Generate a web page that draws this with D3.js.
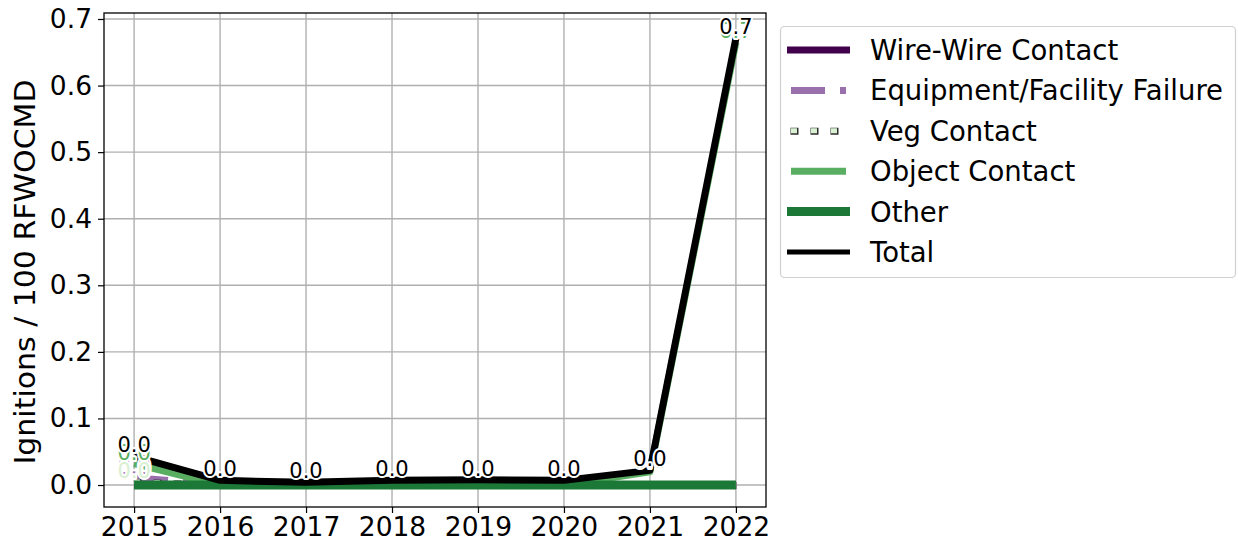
<!DOCTYPE html>
<html>
<head>
<meta charset="utf-8">
<script src="https://cdn.jsdelivr.net/npm/d3@7"></script>
<style>
  html, body { margin: 0; padding: 0; background: #fff; }
  svg { display: block; font-family: "DejaVu Sans", sans-serif; }
</style>
</head>
<body>
<svg id="chart" width="1238" height="548"></svg>
<script>
// Ignition rates per 100 red-flag-warning overhead circuit mile days, by cause
const years = [2015, 2016, 2017, 2018, 2019, 2020, 2021, 2022];
const wireWire = [0, 0, 0, 0, 0, 0, 0, 0];
const equipment = [0.011, 0, 0, 0, 0, 0, 0, 0];
const vegContact = [0.005, 0, 0, 0, 0, 0, 0, 0];
const objectContact = [0.032, 0, 0, 0, 0, 0, 0.02, 0.665];
const other = [0, 0, 0, 0, 0, 0, 0, 0];
const total = [0.043, 0.007, 0.004, 0.007, 0.008, 0.007, 0.022, 0.671];
const yTicks = [0.0, 0.1, 0.2, 0.3, 0.4, 0.5, 0.6, 0.7];
const seriesNames = ["Wire-Wire Contact", "Equipment/Facility Failure", "Veg Contact",
                     "Object Contact", "Other", "Total"];

const series = [
  { name: seriesNames[0], values: wireWire, color: "#40004b", width: 7, dash: null },
  { name: seriesNames[1], values: equipment, color: "#9970ab", width: 7, dash: "34,15,7,15" },
  { name: seriesNames[2], values: vegContact, color: "#d9f0d3", width: 5, dash: "6,14",
    edge: "#2e2e2e", edgeWidth: 7, edgeDash: "8,12" },
  { name: seriesNames[3], values: objectContact, color: "#5aae61", width: 7, dash: null },
  { name: seriesNames[4], values: other, color: "#1b7837", width: 9, dash: null },
  { name: seriesNames[5], values: total, color: "#000000", width: 7, dash: null }
];

const svg = d3.select("#chart");
const plot = { left: 104, right: 766, top: 13, bottom: 507 };

const x = d3.scaleLinear().domain([2015 - 0.35, 2022 + 0.35]).range([plot.left, plot.right]);
const y = d3.scaleLinear().domain([-0.033, 0.709]).range([plot.bottom, plot.top]);

// grid
const grid = svg.append("g");
grid.selectAll("line.vx").data(years).join("line")
  .attr("x1", d => x(d)).attr("x2", d => x(d))
  .attr("y1", plot.top).attr("y2", plot.bottom)
  .attr("stroke", "#b0b0b0").attr("stroke-width", 1.4);
grid.selectAll("line.hy").data(yTicks).join("line")
  .attr("x1", plot.left).attr("x2", plot.right)
  .attr("y1", d => y(d)).attr("y2", d => y(d))
  .attr("stroke", "#b0b0b0").attr("stroke-width", 1.4);

// axes
const xAxis = d3.axisBottom(x).tickValues(years).tickFormat(d3.format("d")).tickSize(6).tickPadding(4);
const yAxis = d3.axisLeft(y).tickValues(yTicks).tickFormat(d3.format(".1f")).tickSize(6).tickPadding(6);

const gx = svg.append("g").attr("transform", `translate(0,${plot.bottom})`).call(xAxis);
const gy = svg.append("g").attr("transform", `translate(${plot.left},0)`).call(yAxis);
[gx, gy].forEach(g => {
  g.select(".domain").remove();
  g.selectAll(".tick line").attr("stroke", "#000").attr("stroke-width", 1.2);
  g.selectAll(".tick text").attr("fill", "#000").style("font-size", "26.5px")
    .style("font-family", "DejaVu Sans");
});

svg.append("clipPath").attr("id", "plotclip").append("rect")
  .attr("x", plot.left).attr("y", plot.top)
  .attr("width", plot.right - plot.left).attr("height", plot.bottom - plot.top);

const lines = svg.append("g").attr("clip-path", "url(#plotclip)");
const lineGen = d3.line().x((d, i) => x(years[i])).y(d => y(d));

series.forEach(s => {
  if (s.edge) {
    lines.append("path").datum(s.values)
      .attr("d", lineGen).attr("fill", "none")
      .attr("stroke", s.edge).attr("stroke-width", s.edgeWidth)
      .attr("stroke-dasharray", s.edgeDash)
      .attr("stroke-dashoffset", 1)
      .attr("transform", "translate(0.5,0.5)");
  }
  lines.append("path").datum(s.values)
    .attr("d", lineGen).attr("fill", "none")
    .attr("stroke", s.color).attr("stroke-width", s.width)
    .attr("stroke-linejoin", "round")
    .attr("stroke-dasharray", s.dash);
});

// value labels where a series is non-zero
const labels = svg.append("g");
series.forEach(s => {
  s.values.forEach((v, i) => {
    if (v <= 0) return;
    labels.append("text")
      .attr("x", x(years[i])).attr("y", y(v) - 4)
      .attr("text-anchor", "middle")
      .style("font-size", "21px")
      .attr("fill", s.color)
      .attr("stroke", "#fff").attr("stroke-width", 4)
      .attr("stroke-linejoin", "round")
      .attr("paint-order", "stroke")
      .text(d3.format(".1f")(v));
  });
});

// frame
svg.append("rect")
  .attr("x", plot.left).attr("y", plot.top)
  .attr("width", plot.right - plot.left).attr("height", plot.bottom - plot.top)
  .attr("fill", "none").attr("stroke", "#000").attr("stroke-width", 1.3);

// y label
svg.append("text")
  .attr("transform", `translate(35,272) rotate(-90)`)
  .attr("text-anchor", "middle")
  .attr("textLength", 385)
  .attr("lengthAdjust", "spacingAndGlyphs")
  .style("font-size", "27.5px")
  .text("Ignitions / 100 RFWOCMD");

// legend
const leg = svg.append("g");
leg.append("rect")
  .attr("x", 780.5).attr("y", 26.5).attr("width", 455).attr("height", 251)
  .attr("rx", 4).attr("fill", "#fff").attr("stroke", "#d0d0d0").attr("stroke-width", 1.2);

series.forEach((s, i) => {
  const cy = 50 + i * 40.4;
  const shortHandle = s.dash || s.name === "Object Contact";
  const x0 = shortHandle ? 791 : 787;
  const x1 = shortHandle ? 846 : 850;
  if (s.edge) {
    leg.append("line").attr("x1", x0 - 1).attr("x2", x1).attr("y1", cy).attr("y2", cy)
      .attr("stroke", s.edge).attr("stroke-width", s.edgeWidth)
      .attr("stroke-dasharray", s.edgeDash).attr("transform", "translate(0.5,0.5)");
  }
  leg.append("line").attr("x1", x0).attr("x2", x1).attr("y1", cy).attr("y2", cy)
    .attr("stroke", s.color).attr("stroke-width", s.name === "Total" ? 5 : s.width)
    .attr("stroke-dasharray", s.dash);
  leg.append("text").attr("x", 870).attr("y", cy).attr("dy", "0.36em")
    .style("font-size", "27.5px").text(s.name);
});
</script>
</body>
</html>
